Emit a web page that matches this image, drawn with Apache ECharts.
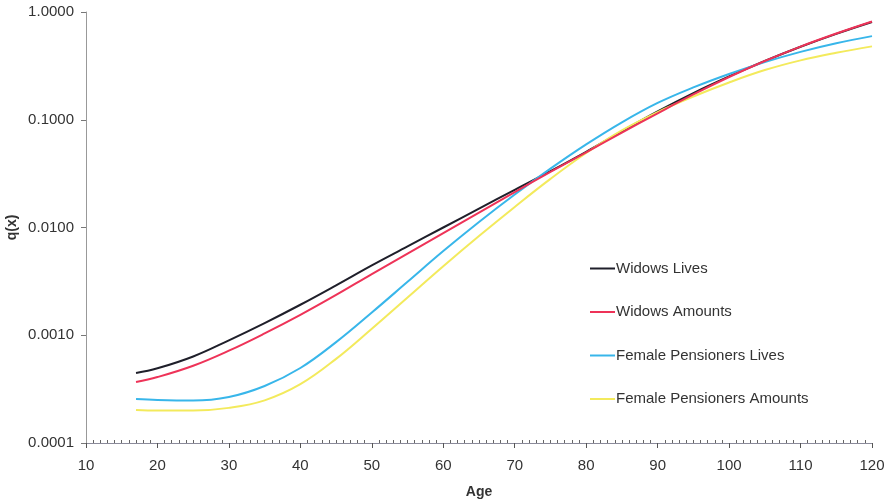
<!DOCTYPE html>
<html>
<head>
<meta charset="utf-8">
<script src="https://cdn.jsdelivr.net/npm/echarts@6/dist/echarts.min.js"></script>
<style>
html,body{margin:0;padding:0;background:#fff;}
#chart{width:893px;height:504px;}
</style>
</head>
<body>
<div id="chart"></div>
<script>
const ages = [17,20,25,30,35,40,45,50,55,60,65,70,75,80,85,90,95,100,105,110,115,120];
// log10 q(x)
const widowsLivesLog    = [-3.351,-3.307,-3.197,-3.047,-2.887,-2.717,-2.537,-2.352,-2.176,-2.000,-1.825,-1.650,-1.477,-1.297,-1.107,-0.922,-0.752,-0.598,-0.455,-0.323,-0.203,-0.093];
const widowsAmountsLog  = [-3.434,-3.388,-3.283,-3.143,-2.983,-2.811,-2.626,-2.432,-2.242,-2.052,-1.862,-1.672,-1.484,-1.302,-1.120,-0.940,-0.765,-0.603,-0.455,-0.321,-0.200,-0.088];
const femaleLivesLog    = [-3.592,-3.601,-3.606,-3.573,-3.471,-3.304,-3.064,-2.789,-2.504,-2.219,-1.949,-1.694,-1.454,-1.229,-1.024,-0.844,-0.700,-0.575,-0.465,-0.370,-0.290,-0.224];
const femaleAmountsLog  = [-3.694,-3.699,-3.699,-3.674,-3.604,-3.454,-3.219,-2.939,-2.649,-2.359,-2.079,-1.809,-1.549,-1.309,-1.099,-0.929,-0.784,-0.654,-0.539,-0.449,-0.379,-0.319];
const seriesNames = ['Widows Lives','Widows Amounts','Female Pensioners Lives','Female Pensioners Amounts'];
const xTicks = {min:10, max:120, step:10};
const yTicks = {min:0.0001, max:1};

const colors = ['#1f1f2a','#ee3358','#38b6ea','#f3ea5c'];
const logData = [widowsLivesLog, widowsAmountsLog, femaleLivesLog, femaleAmountsLog];
const font = 'Liberation Sans, Arial, sans-serif';

const chart = echarts.init(document.getElementById('chart'), null, {renderer:'canvas'});
chart.setOption({
  animation:false,
  backgroundColor:'#ffffff',
  grid:{left:86,right:21,top:12,bottom:61,containLabel:false,outerBoundsMode:'none'},
  legend:{
    orient:'vertical', left:585, top:256,
    itemWidth:25, itemHeight:16, itemGap:28.5,
    icon:'path://M0,7 L25,7 L25,9 L0,9 Z',
    textStyle:{fontFamily:font,fontSize:15,color:'#333',padding:[0,0,0,-4]},
    data:seriesNames
  },
  xAxis:[{
    type:'value', min:xTicks.min, max:xTicks.max, interval:xTicks.step,
    name:'Age', nameLocation:'middle', nameGap:42, nameMoveOverlap:false,
    nameTextStyle:{fontFamily:font,fontSize:14,fontWeight:'bold',color:'#333'},
    axisLine:{show:true,lineStyle:{color:'#8a8a9a',width:1}},
    axisTick:{show:true,length:5,lineStyle:{color:'#555'}},
    axisLabel:{fontFamily:font,fontSize:15,color:'#333',margin:15},
    splitLine:{show:false}
  },{
    type:'value', min:xTicks.min, max:xTicks.max, interval:xTicks.step, position:'bottom',
    axisLine:{show:false},
    axisTick:{show:true,inside:true,length:0},
    axisLabel:{show:false},
    minorTick:{show:true,splitNumber:10,length:3,lineStyle:{color:'#666'}},
    splitLine:{show:false}
  }],
  yAxis:{
    type:'log', logBase:10, min:yTicks.min, max:yTicks.max,
    name:'q(x)', nameLocation:'middle', nameGap:67, nameRotate:90, nameMoveOverlap:false,
    nameTextStyle:{fontFamily:font,fontSize:14,fontWeight:'bold',color:'#333'},
    axisLine:{show:true,lineStyle:{color:'#999',width:1}},
    axisTick:{show:true,length:5,lineStyle:{color:'#777'}},
    axisLabel:{fontFamily:font,fontSize:15,color:'#333',margin:12,formatter:v=>Number(v).toFixed(4)},
    splitLine:{show:false}
  },
  series: seriesNames.map((n,i)=>({
    name:n, type:'line', smooth:0.4, symbol:'none',
    data: ages.map((a,j)=>[a, Math.pow(10, logData[i][j])]),
    lineStyle:{color:colors[i],width:2},
    itemStyle:{color:colors[i]},
    z: i===1 ? 5 : (i===0 ? 3 : 4)
  }))
});
</script>
</body>
</html>
